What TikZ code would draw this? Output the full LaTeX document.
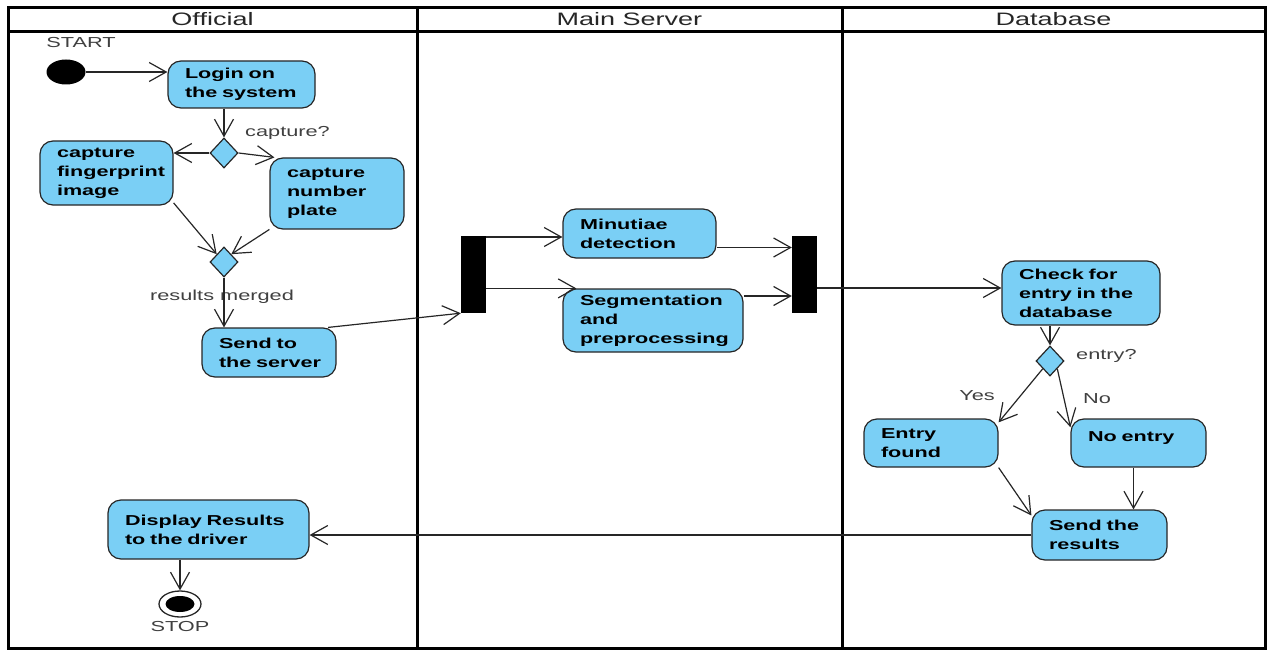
\documentclass[tikz,border=0pt]{standalone}
\usepackage{fontspec}
\setmainfont{Liberation Sans}[FakeStretch=1.5]
\usetikzlibrary{arrows.meta,shapes.geometric}
\definecolor{actblue}{RGB}{122,207,245}
\tikzset{
  lane/.style={line width=3pt},
  act/.style={draw=black!85, line width=1.2pt, fill=actblue, rounded corners=13pt,
    align=left, inner xsep=17pt, inner ysep=0pt, font=\bfseries\fontsize{14.4}{19}\selectfont},
  decision/.style={diamond, draw=black!85, line width=1.2pt, fill=actblue,
    inner sep=0pt, minimum width=28pt, minimum height=30pt},
  bar/.style={fill=black, inner sep=0pt, minimum width=25pt, minimum height=77pt},
  lbl/.style={text=black!75, inner sep=0pt, font=\fontsize{14.5}{17}\selectfont},
  lanetitle/.style={inner sep=0pt, text=black!85, font=\fontsize{18}{20}\selectfont},
  flow/.style={draw=black!85, line width=1.2pt, -{Straight Barb[length=17pt,width=19pt]}},
}
\begin{document}
\begin{tikzpicture}[x=1pt, y=-1pt]
  \useasboundingbox (0,0) rectangle (1269,650);
  \draw[lane] (8,8) rectangle (1265,648);
  \draw[lane] (8,32) -- (1265,32);
  \draw[lane] (417,8) -- (417,648);
  \draw[lane] (842,8) -- (842,648);
  \node[lanetitle] (tofficial) at (212.5,19.5) {Official};
  \node[lanetitle] (tserver) at (629.5,19.5) {Main Server};
  \node[lanetitle] (tdb) at (1053.5,19.5) {Database};

  \node[ellipse, fill=black, inner sep=0pt, minimum width=39pt, minimum height=25pt] (start) at (66,72) {};
  \node[lbl] (startlbl) at (81,43) {START};
  \node[act, text width=113pt, minimum height=47pt] (login) at (241.5,84.5) {Login on\\the system};
  \node[decision] (d1) at (224,153) {};
  \node[lbl, anchor=west] (d1lbl) at (245,133) {capture?};
  \node[act, text width=99pt, minimum height=64pt] (fing) at (106.5,173) {capture\\fingerprint\\image};
  \node[act, text width=100pt, minimum height=71pt] (plate) at (337,193.5) {capture\\number\\plate};
  \node[decision] (d2) at (224,262) {};
  \node[lbl] (d2lbl) at (222,297) {results merged};
  \node[act, inner xsep=11pt, text width=112pt, minimum height=49pt] (send) at (269,352.5) {\hspace*{6pt}Send to\\\hspace*{6pt}the server};
  \node[act, text width=167pt, minimum height=59pt] (display) at (208.5,529.5) {Display Results\\to the driver};
  \node[ellipse, draw=black!85, line width=1.3pt, inner sep=0pt, minimum width=42pt, minimum height=26pt] (stop) at (180,604) {};
  \node[ellipse, fill=black, inner sep=0pt, minimum width=29pt, minimum height=16pt] (stopdot) at (stop) {};
  \node[lbl] (stoplbl) at (180,627) {STOP};

  \node[bar] (fork) at (473.5,274.5) {};
  \node[act, text width=119pt, minimum height=49pt] (minut) at (639.5,233.5) {Minutiae\\detection};
  \node[act, text width=146pt, minimum height=63pt] (segm) at (653,320.5) {Segmentation\\and\\preprocessing};
  \node[bar] (join) at (804.5,274.5) {};

  \node[act, text width=124pt, minimum height=64pt] (check) at (1081,293) {Check for\\entry in the\\database};
  \node[decision] (d3) at (1050,361) {};
  \node[lbl, anchor=west] (d3lbl) at (1076,356) {entry?};
  \node[act, text width=100pt, minimum height=48pt] (found) at (931,443) {Entry\\found};
  \node[act, text width=101pt, minimum height=48pt] (noentry) at (1138.5,443) {No entry\\[-6pt]\mbox{}};
  \node[act, text width=101pt, minimum height=50pt] (results) at (1099.5,535) {Send the\\results};
  \node[lbl] (yeslbl) at (977,396) {Yes};
  \node[lbl] (nolbl) at (1097,399) {No};

  \draw[flow] (start.east) -- (login.west |- start.east);
  \draw[flow] (login.south -| d1.north) -- (d1.north);
  \draw[flow] (d1.west) -- (fing.east |- d1.west);
  \draw[flow] (d1.east) -- (plate.150);
  \draw[flow] (fing.-24) -- (d2.north west);
  \draw[flow] (plate.208) -- (d2.north east);
  \draw[flow] (d2.south) -- (send.north -| d2.south);
  \draw[flow] (send.23) -- (fork.south west);
  \draw[flow] ([yshift=-3.5pt]minut.west -| fork.east) -- ([yshift=-3.5pt]minut.west);
  \draw[flow] (segm.north west -| fork.east) -- ([xshift=14pt]segm.north west);
  \draw[flow] ([yshift=-14pt]minut.east) -- ([yshift=-14pt]minut.east -| join.west);
  \draw[flow] ([yshift=24.5pt]segm.east) -- ([yshift=24.5pt]segm.east -| join.west);
  \draw[flow] ([yshift=5pt]check.west -| join.east) -- ([yshift=5pt]check.west);
  \draw[flow] (check.south -| d3.north) -- (d3.north);
  \draw[flow] (d3.south west) -- (found.17);
  \draw[flow] (d3.south east) -- (noentry.167);
  \draw[flow] (found.-20) -- (results.164);
  \draw[flow] ([xshift=-5pt]noentry.south) -- ([xshift=-5pt]noentry.south |- results.north);
  \draw[flow] (results.west) -- (display.east |- results.west);
  \draw[flow] (display.south -| stop.north) -- (stop.north);
\end{tikzpicture}
\end{document}
